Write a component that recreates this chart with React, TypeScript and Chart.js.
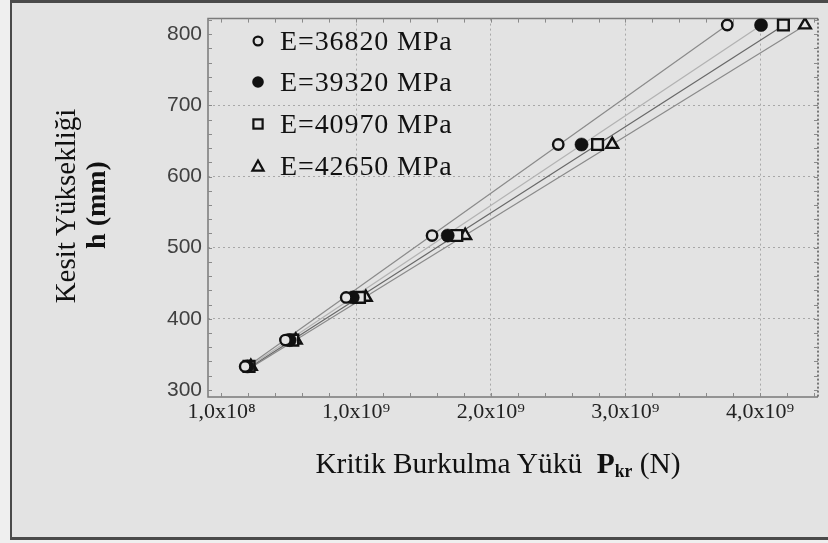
import React, { useEffect, useRef } from 'react';
import { Chart, registerables } from 'chart.js';

Chart.register(...registerables);

// ---- data ----
const H_MM = [333, 370, 430, 517, 645, 813];
const SERIES_LABELS = ['E=36820 MPa', 'E=39320 MPa', 'E=40970 MPa', 'E=42650 MPa'];
const P_E36820 = [1.76e8, 4.75e8, 9.26e8, 1.564e9, 2.501e9, 3.756e9];
const P_E39320 = [1.93e8, 5.07e8, 9.75e8, 1.68e9, 2.674e9, 4.007e9];
const P_E40970 = [2.05e8, 5.3e8, 1.025e9, 1.748e9, 2.793e9, 4.173e9];
const P_E42650 = [2.18e8, 5.52e8, 1.072e9, 1.81e9, 2.902e9, 4.333e9];

const X_TICK_VALUES = [0, 1e9, 2e9, 3e9, 4e9];
const X_TICK_LABELS = ['1,0x10⁸', '1,0x10⁹', '2,0x10⁹', '3,0x10⁹', '4,0x10⁹'];
const X_GRID_VALUES = [1e9, 2e9, 3e9, 4e9];
const Y_TICK_VALUES = [300, 400, 500, 600, 700, 800];
const Y_GRID_VALUES = [400, 500, 600, 700];

const SERIES_P = [P_E36820, P_E39320, P_E40970, P_E42650];

const BG = '#e3e3e3';
const MARKERS = [
  { pointStyle: 'circle', radius: 5.2, bg: BG, bw: 2.4 },
  { pointStyle: 'circle', radius: 6.6, bg: '#111', bw: 0.5 },
  { pointStyle: 'rect', radius: 7.6, bg: BG, bw: 2.4 },
  { pointStyle: 'triangle', radius: 6.8, bg: BG, bw: 2.4 },
];
const LINE_COLORS = ['#8a8a8a', '#b2b2b2', '#686868', '#8a8a8a'];

function fitLine(xs: number[], ys: number[]) {
  const n = xs.length;
  const mx = xs.reduce((a, b) => a + b, 0) / n;
  const my = ys.reduce((a, b) => a + b, 0) / n;
  let sxy = 0;
  let syy = 0;
  for (let i = 0; i < n; i++) {
    sxy += (ys[i] - my) * (xs[i] - mx);
    syy += (ys[i] - my) * (ys[i] - my);
  }
  const b = sxy / syy;
  const a = mx - b * my;
  return [
    { x: a + b * ys[0], y: ys[0] },
    { x: a + b * ys[n - 1], y: ys[n - 1] },
  ];
}

const framePlugin = {
  id: 'frame',
  beforeDatasetsDraw(chart: any) {
    const { ctx, chartArea: a, scales } = chart;
    const x = scales.x;
    const y = scales.y;
    ctx.save();
    ctx.strokeStyle = '#7a7a7a';
    ctx.lineWidth = 1.5;
    ctx.beginPath();
    ctx.moveTo(a.right, a.top);
    ctx.lineTo(a.left, a.top);
    ctx.lineTo(a.left, a.bottom);
    ctx.lineTo(a.right, a.bottom);
    ctx.stroke();
    ctx.setLineDash([2, 2]);
    ctx.strokeStyle = '#555';
    ctx.beginPath();
    ctx.moveTo(a.right, a.top);
    ctx.lineTo(a.right, a.bottom);
    ctx.stroke();
    ctx.setLineDash([]);
    ctx.strokeStyle = '#8a8a8a';
    ctx.lineWidth = 1;
    ctx.beginPath();
    x.ticks.forEach((t: any) => {
      const px = Math.round(x.getPixelForValue(t.value)) + 0.5;
      ctx.moveTo(px, a.bottom);
      ctx.lineTo(px, a.bottom - 4);
      ctx.moveTo(px, a.top);
      ctx.lineTo(px, a.top + 4);
    });
    y.ticks.forEach((t: any) => {
      const py = Math.round(y.getPixelForValue(t.value)) + 0.5;
      ctx.moveTo(a.left, py);
      ctx.lineTo(a.left + 4, py);
      ctx.moveTo(a.right, py);
      ctx.lineTo(a.right - 4, py);
    });
    ctx.stroke();
    ctx.restore();
  },
};

function LegendMarker({ i }: { i: number }) {
  const s = 20;
  const c = 10;
  let shape: any = null;
  if (i === 0) shape = <circle cx={c} cy={c} r={4.4} fill="none" stroke="#111" strokeWidth={2.2} />;
  if (i === 1) shape = <circle cx={c} cy={c} r={5.8} fill="#111" />;
  if (i === 2) shape = <rect x={c - 4.6} y={c - 4.6} width={9.2} height={9.2} fill="none" stroke="#111" strokeWidth={2.2} />;
  if (i === 3)
    shape = (
      <polygon
        points={`${c},${c - 5.5} ${c + 5.6},${c + 4.6} ${c - 5.6},${c + 4.6}`}
        fill="none"
        stroke="#111"
        strokeWidth={2.2}
        strokeLinejoin="miter"
      />
    );
  return (
    <svg width={s} height={s} style={{ display: 'block' }}>
      {shape}
    </svg>
  );
}

export default function App() {
  const ref = useRef<HTMLCanvasElement | null>(null);

  useEffect(() => {
    if (!ref.current) return;
    const markerSets = SERIES_P.map((ps, i) => ({
      label: SERIES_LABELS[i],
      data: ps.map((p, k) => ({ x: p, y: H_MM[k] })),
      pointStyle: MARKERS[i].pointStyle,
      pointRadius: MARKERS[i].radius,
      pointBackgroundColor: MARKERS[i].bg,
      pointBorderColor: '#111',
      pointBorderWidth: MARKERS[i].bw,
      showLine: false,
      order: 0,
    }));
    const lineSets = SERIES_P.map((ps, i) => ({
      label: SERIES_LABELS[i] + ' fit',
      data: fitLine(ps, H_MM),
      showLine: true,
      borderColor: LINE_COLORS[i],
      borderWidth: 1.2,
      pointRadius: 0,
      fill: false,
      order: 1,
    }));

    const chart = new Chart(ref.current, {
      type: 'scatter',
      data: { datasets: [...markerSets, ...lineSets] as any },
      options: {
        animation: false,
        responsive: false,
        events: [],
        layout: { padding: { left: 0, top: 18, right: 7, bottom: 0 } },
        plugins: { legend: { display: false }, tooltip: { enabled: false } },
        scales: {
          x: {
            type: 'linear',
            min: -1.0e8,
            max: 4.43e9,
            afterBuildTicks: (s: any) => {
              const t = [];
              for (let i = 0; i <= 22; i++) t.push({ value: i * 2e8 });
              s.ticks = t;
            },
            afterFit: (s: any) => {
              s.height = 146;
            },
            ticks: {
              autoSkip: false,
              maxRotation: 0,
              minRotation: 0,
              padding: 2,
              color: '#222',
              font: { family: '"Liberation Serif", "Times New Roman", serif', size: 22 },
              callback: (v: any) => {
                const idx = X_TICK_VALUES.indexOf(Number(v));
                return idx >= 0 ? X_TICK_LABELS[idx] : '';
              },
            },
            grid: {
              drawTicks: false,
              lineWidth: 1,
              color: (c: any) =>
                c.tick && X_GRID_VALUES.indexOf(c.tick.value) >= 0 ? '#a8a8a8' : 'rgba(0,0,0,0)',
            },
            border: { display: false, dash: [2, 3] },
          },
          y: {
            type: 'linear',
            min: 290,
            max: 822,
            afterBuildTicks: (s: any) => {
              const t = [];
              for (let i = 0; i <= 26; i++) t.push({ value: 300 + i * 20 });
              s.ticks = t;
            },
            afterFit: (s: any) => {
              s.width = 208;
            },
            ticks: {
              autoSkip: false,
              padding: 6,
              color: '#404040',
              font: { family: '"Liberation Sans", Arial, sans-serif', size: 21 },
              callback: (v: any) => (Y_TICK_VALUES.indexOf(Number(v)) >= 0 ? String(v) : ''),
            },
            grid: {
              drawTicks: false,
              lineWidth: 1,
              color: (c: any) =>
                c.tick && Y_GRID_VALUES.indexOf(c.tick.value) >= 0 ? '#a8a8a8' : 'rgba(0,0,0,0)',
            },
            border: { display: false, dash: [2, 3] },
          },
        },
      },
      plugins: [framePlugin],
    });
    return () => chart.destroy();
  }, []);

  const serif = '"Liberation Serif", "Times New Roman", serif';

  return (
    <div
      style={{
        position: 'absolute',
        left: 0,
        top: 0,
        width: 828,
        height: 543,
        overflow: 'hidden',
        background: '#efefef',
        fontFamily: serif,
      }}
    >
      <div
        style={{
          position: 'absolute',
          left: 10,
          top: 0,
          width: 840,
          height: 540,
          boxSizing: 'border-box',
          borderTop: '3px solid #4a4a4a',
          borderLeft: '2px solid #4a4a4a',
          borderBottom: '3px solid #4a4a4a',
          background: BG,
        }}
      />
      <canvas
        ref={ref}
        width={828}
        height={543}
        style={{ position: 'absolute', left: 0, top: 0, width: 828, height: 543 }}
      />
      {SERIES_LABELS.map((lab, i) => (
        <div
          key={lab}
          style={{
            position: 'absolute',
            left: 248,
            top: 20.5 + i * 41.8,
            height: 40,
            display: 'flex',
            alignItems: 'center',
            whiteSpace: 'nowrap',
          }}
        >
          <LegendMarker i={i} />
          <span
            style={{
              marginLeft: 12,
              fontSize: 28,
              lineHeight: '40px',
              letterSpacing: '0.9px',
              color: '#111',
            }}
          >
            {lab}
          </span>
        </div>
      ))}
      <div
        style={{
          position: 'absolute',
          left: 498,
          top: 446,
          whiteSpace: 'nowrap',
          fontSize: 30,
          lineHeight: '34px',
          color: '#111',
          transform: 'translateX(-50%) scaleX(0.98)',
        }}
      >
        Kritik Burkulma Yükü{'\u00a0\u00a0'}
        <b>
          P<sub style={{ fontSize: 18, verticalAlign: '-4px' }}>kr</sub>
        </b>
        {' (N)'}
      </div>
      <div
        style={{
          position: 'absolute',
          left: 65,
          top: 206,
          whiteSpace: 'nowrap',
          fontSize: 29,
          lineHeight: 1,
          color: '#111',
          transform: 'translate(-50%, -50%) rotate(-90deg)',
        }}
      >
        Kesit Yüksekliği
      </div>
      <div
        style={{
          position: 'absolute',
          left: 96,
          top: 205,
          whiteSpace: 'nowrap',
          fontSize: 28,
          fontWeight: 'bold',
          lineHeight: 1,
          color: '#111',
          transform: 'translate(-50%, -50%) rotate(-90deg)',
        }}
      >
        h (mm)
      </div>
    </div>
  );
}
